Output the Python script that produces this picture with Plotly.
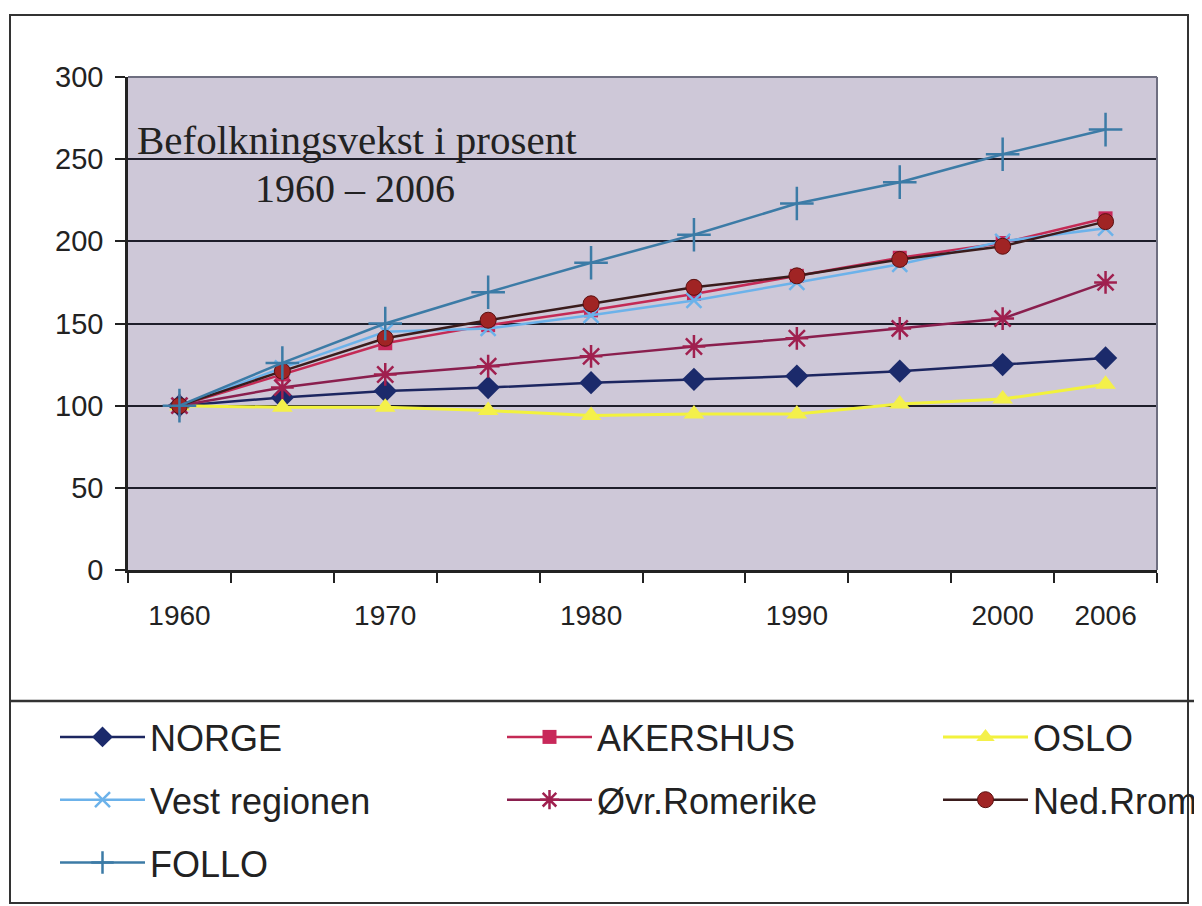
import plotly.graph_objects as go

# ---- data ----
years = ["1960", "1965", "1970", "1975", "1980", "1985", "1990", "1995", "2000", "2006"]
year_labels = ["1960", "", "1970", "", "1980", "", "1990", "", "2000", "2006"]

norge = [100, 105, 109, 111, 114, 116, 118, 121, 125, 129]
akershus = [100, 119, 138, 149, 158, 168, 179, 190, 199, 214]
oslo = [100, 99, 99, 97, 94, 95, 95, 101, 104, 113]
vest = [100, 123, 145, 147, 155, 164, 175, 186, 200, 208]
ovr_romerike = [100, 111, 119, 124, 130, 136, 141, 147, 153, 175]
ned_rrom = [100, 121, 141, 152, 162, 172, 179, 189, 197, 212]
follo = [100, 126, 150, 169, 187, 204, 223, 236, 253, 268]

series_names = ["NORGE", "AKERSHUS", "OSLO", "Vest regionen", "Øvr.Romerike", "Ned.Rrom", "FOLLO"]
legend_columns = ["legend", "legend2", "legend3", "legend", "legend2", "legend3", "legend"]

# ---- geometry (viewport pixels; the page body adds an 8px margin) ----
OFF = 8
W, H = 1202 - OFF, 906 - OFF
PL, PR, PT, PB = 128 - OFF, 1157 - OFF, 77 - OFF, 570 - OFF


def px(x):
    return (x - OFF - PL) / (PR - PL)


def py(y):
    return (PB - (y - OFF)) / (PB - PT)


def cx(x):
    return (x - OFF) / W


def cy(y):
    return (H - (y - OFF)) / H


fig = go.Figure()

styles = [
    dict(line=dict(color="#1c2660", width=2.5),
         marker=dict(symbol="diamond", size=18, color="#1b2a6b", line=dict(width=0))),
    dict(line=dict(color="#c42a55", width=2.5),
         marker=dict(symbol="square", size=14, color="#c8285a", line=dict(width=0))),
    dict(line=dict(color="#f2f23c", width=3),
         marker=dict(symbol="triangle-up", size=18, color="#f4f04a", line=dict(width=0))),
    dict(line=dict(color="#6cb2ea", width=2.5),
         marker=dict(symbol="x-thin-open", size=15, color="#6cb2ea", line=dict(width=2.5, color="#6cb2ea"))),
    dict(line=dict(color="#8a1f4e", width=2.5),
         marker=dict(symbol="asterisk-open", size=19, color="#a0204f", line=dict(width=2.5, color="#a0204f"))),
    dict(line=dict(color="#3a1c1c", width=2.5),
         marker=dict(symbol="circle", size=16, color="#a02424", line=dict(width=1, color="#5a1010"))),
    dict(line=dict(color="#3c7ba6", width=2.5),
         marker=dict(symbol="cross-thin-open", size=24, color="#3c7ba6", line=dict(width=2.5, color="#3c7ba6"))),
]

all_series = [norge, akershus, oslo, vest, ovr_romerike, ned_rrom, follo]

for name, vals, st, lg in zip(series_names, all_series, styles, legend_columns):
    fig.add_trace(go.Scatter(
        x=years, y=vals, name=name, mode="lines+markers",
        line=st["line"], marker=st["marker"],
        legend=lg, legendgroup=name,
    ))

FONT = "Arial, Liberation Sans, sans-serif"
LEG_FONT = dict(size=36, family=FONT, color="#222222")


def legend_box(x_view):
    return dict(
        orientation="v",
        xref="container", yref="container",
        x=cx(x_view), y=cy(707),
        xanchor="left", yanchor="top",
        font=LEG_FONT,
        itemwidth=85,
        tracegroupgap=13,
        bgcolor="rgba(0,0,0,0)",
        borderwidth=0,
        itemclick=False, itemdoubleclick=False,
    )


fig.update_layout(
    width=W, height=H,
    margin=dict(l=PL, r=W - PR, t=PT, b=H - PB, autoexpand=False),
    paper_bgcolor="white",
    plot_bgcolor="#cec8d8",
    font=dict(family=FONT, color="#222222"),
    showlegend=True,
    legend=legend_box(55),
    legend2=legend_box(502),
    legend3=legend_box(938),
)

fig.update_xaxes(
    type="category",
    categoryorder="array", categoryarray=years,
    tickmode="array", tickvals=years, ticktext=year_labels,
    tickson="boundaries",
    ticks="outside", ticklen=10, tickwidth=2, tickcolor="#222222",
    showline=True, linecolor="#222222", linewidth=2.5,
    showgrid=False, zeroline=False,
    tickfont=dict(size=28, family=FONT, color="#222222"),
    ticklabelstandoff=19,
    range=[-0.5, 9.5],
)

fig.update_yaxes(
    range=[0, 300], dtick=50, tick0=0,
    ticks="outside", ticklen=10, tickwidth=2, tickcolor="#222222",
    showline=True, linecolor="#222222", linewidth=2.5,
    showgrid=True, gridcolor="#1e1e2a", gridwidth=2,
    zeroline=False,
    tickfont=dict(size=29, family=FONT, color="#222222"),
    ticklabelstandoff=6,
)

# plot area top/right border
fig.add_shape(type="line", xref="paper", yref="paper", x0=0, x1=1, y0=1, y1=1,
              line=dict(color="#6e6e80", width=2))
fig.add_shape(type="line", xref="paper", yref="paper", x0=1, x1=1, y0=0, y1=1,
              line=dict(color="#6e6e80", width=2))

# outer chart frame and legend separator
fig.add_shape(type="rect", xref="paper", yref="paper",
              x0=px(10), x1=px(1188), y0=py(903), y1=py(15),
              line=dict(color="#333333", width=2), fillcolor="rgba(0,0,0,0)")
fig.add_shape(type="line", xref="paper", yref="paper",
              x0=px(10), x1=px(1202), y0=py(701), y1=py(701),
              line=dict(color="#333333", width=2.5))

# title text inside the plot
SERIF = "Liberation Serif, Times New Roman, serif"
fig.add_annotation(text="Befolkningsvekst i prosent", xref="paper", yref="paper",
                   x=px(135), y=py(140), xanchor="left", yanchor="middle", showarrow=False,
                   font=dict(family=SERIF, size=41, color="#222222"))
fig.add_annotation(text="1960 – 2006", xref="paper", yref="paper",
                   x=px(355), y=py(188), xanchor="center", yanchor="middle", showarrow=False,
                   font=dict(family=SERIF, size=40, color="#222222"))

fig.write_html("out.html")
